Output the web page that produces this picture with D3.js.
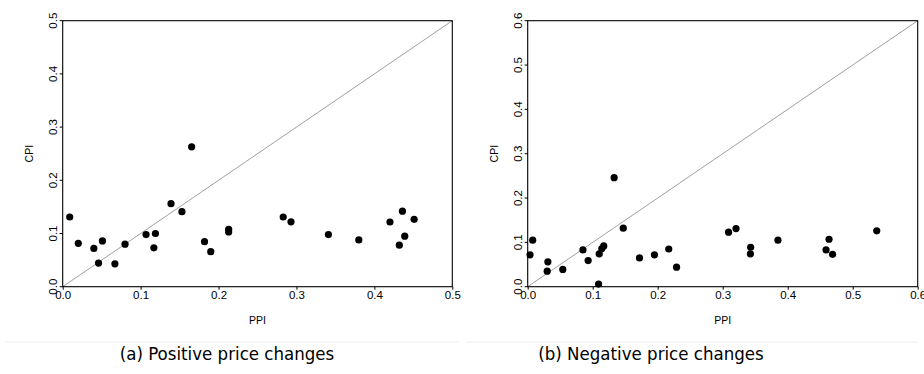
<!DOCTYPE html>
<html><head><meta charset="utf-8">
<script src="https://cdn.jsdelivr.net/npm/d3@7"></script>
<style>
html,body{margin:0;padding:0;background:#fff;}
svg{display:block;}
</style></head>
<body>
<svg id="chart" width="924" height="374"></svg>
<script>
// Panel (a): positive price changes
const posPPI = [0.009,0.020,0.040,0.046,0.051,0.067,0.080,0.107,0.117,0.119,0.139,0.153,0.1655,0.182,0.190,0.213,0.213,0.283,0.293,0.341,0.380,0.420,0.436,0.432,0.439,0.451];
const posCPI = [0.131,0.0815,0.072,0.0445,0.086,0.043,0.080,0.098,0.073,0.100,0.156,0.141,0.263,0.0846,0.0658,0.108,0.103,0.131,0.122,0.098,0.088,0.1216,0.142,0.078,0.095,0.1266];
// Panel (b): negative price changes
const negPPI = [0.0036,0.0077,0.030,0.031,0.054,0.085,0.093,0.109,0.110,0.114,0.117,0.133,0.147,0.172,0.195,0.217,0.229,0.309,0.3205,0.343,0.3426,0.385,0.459,0.4636,0.469,0.537];
const negCPI = [0.072,0.105,0.035,0.056,0.039,0.083,0.059,0.006,0.074,0.086,0.092,0.246,0.132,0.065,0.072,0.085,0.044,0.123,0.131,0.089,0.074,0.105,0.083,0.107,0.073,0.126];
const ticksA = [0,0.1,0.2,0.3,0.4,0.5];
const ticksB = [0,0.1,0.2,0.3,0.4,0.5,0.6];
const captions = ["(a) Positive price changes","(b) Negative price changes"];
const xLabel = "PPI", yLabel = "CPI";

const FONT = "'Liberation Sans', Arial, Helvetica, sans-serif";
const svg = d3.select("#chart");

function panel(cfg){
  const {x0,x1,y0,y1,max,ticks,xs,ys,caption,capX} = cfg;
  const x = d3.scaleLinear().domain([0,max]).range([x0,x1]);
  const y = d3.scaleLinear().domain([0,max]).range([y1,y0]);
  const g = svg.append("g");
  g.append("line").attr("x1",x(0)).attr("y1",y(0)).attr("x2",x(max)).attr("y2",y(max))
    .attr("stroke","#a0a0a0").attr("stroke-width",1);
  g.append("rect").attr("x",x0).attr("y",y0).attr("width",x1-x0).attr("height",y1-y0)
    .attr("fill","none").attr("stroke","#000").attr("stroke-width",1.1);
  const xa = g.append("g").attr("transform",`translate(0,${y1})`)
    .call(d3.axisBottom(x).tickValues(ticks).tickFormat(d3.format(".1f")).tickSizeInner(3).tickSizeOuter(0).tickPadding(1));
  xa.select(".domain").remove();
  xa.selectAll("text").style("font-size","11.5px").style("font-family",FONT).attr("fill","#000");
  const ya = g.append("g").attr("transform",`translate(${x0},0)`)
    .call(d3.axisLeft(y).tickValues(ticks).tickFormat(d3.format(".1f")).tickSizeInner(3).tickSizeOuter(0));
  ya.select(".domain").remove();
  ya.selectAll(".tick").attr("transform","translate(0,0)");
  ya.selectAll(".tick line").attr("y1",d=>y(d)).attr("y2",d=>y(d));
  ya.selectAll("text").style("font-size","11.5px").style("font-family",FONT).attr("fill","#000")
    .attr("text-anchor","middle").attr("x",0).attr("y",0).attr("dy",0)
    .attr("transform",d=>`translate(-6,${y(d)}) rotate(-90)`);
  g.append("text").attr("x",(x0+x1)/2).attr("y",y1+37).attr("text-anchor","middle")
    .style("font-size","10.5px").style("font-family",FONT).text(xLabel);
  g.append("text").attr("transform",`translate(${x0-30},${(y0+y1)/2}) rotate(-90)`)
    .attr("text-anchor","middle").style("font-size","10.5px").style("font-family",FONT).text(yLabel);
  g.selectAll("circle").data(xs.map((v,i)=>[v,ys[i]])).enter().append("circle")
    .attr("cx",d=>x(d[0])).attr("cy",d=>y(d[1])).attr("r",3.6).attr("fill","#000");
  svg.append("text").attr("x",capX).attr("y",360).attr("text-anchor","middle")
    .style("font-size","18.5px").style("font-family","'DejaVu Sans Condensed','Liberation Sans Narrow',sans-serif")
    .attr("fill","#000").text(caption);
}

svg.append("line").attr("x1",6).attr("x2",458).attr("y1",342).attr("y2",342).attr("stroke","#eeeeee");
svg.append("line").attr("x1",466).attr("x2",918).attr("y1",342).attr("y2",342).attr("stroke","#eeeeee");

panel({x0:62.7,x1:452.3,y0:20.7,y1:286.7,max:0.5,ticks:ticksA,xs:posPPI,ys:posCPI,caption:captions[0],capX:227});
panel({x0:527.7,x1:917.7,y0:20.7,y1:286.7,max:0.6,ticks:ticksB,xs:negPPI,ys:negCPI,caption:captions[1],capX:651});
</script>
</body></html>
